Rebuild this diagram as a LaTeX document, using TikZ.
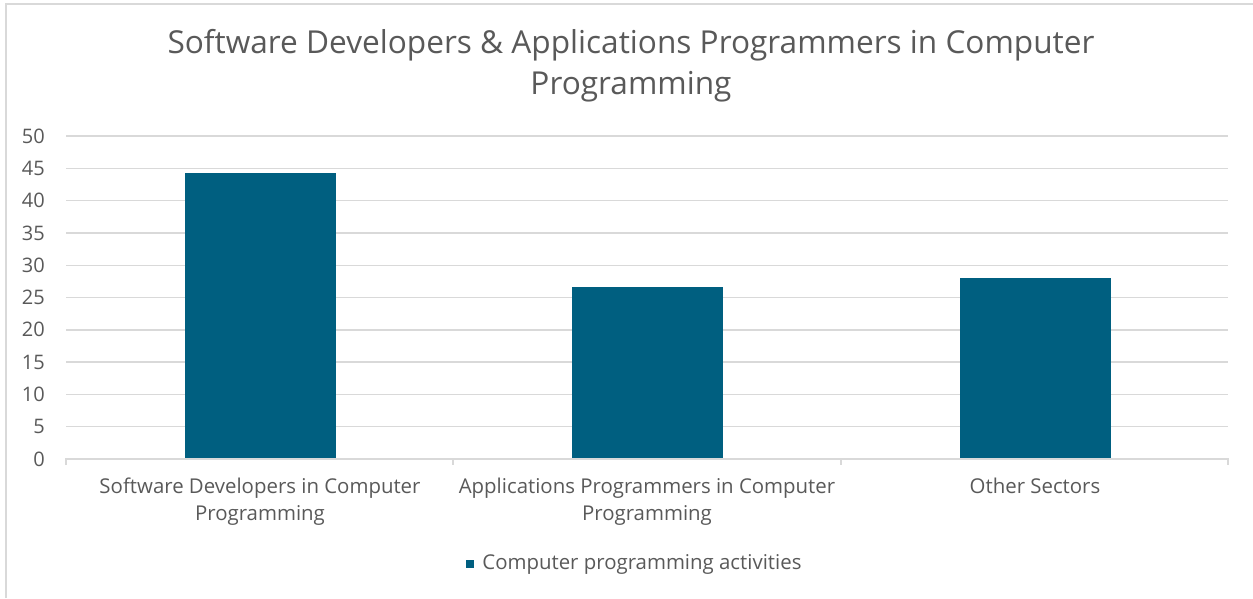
\documentclass[tikz,border=0pt]{standalone}
\usepackage{fontspec}
\setmainfont{Open Sans}
\usetikzlibrary{positioning}
\definecolor{barblue}{RGB}{0,95,128}
\definecolor{txtgray}{RGB}{89,89,89}
\definecolor{gridgray}{RGB}{217,217,217}

\begin{document}
\begin{tikzpicture}[x=1pt, y=-1pt,
    bar/.style={fill=barblue, draw=none, anchor=south, minimum width=151pt, inner sep=0pt},
    ticklabel/.style={text=txtgray, font=\fontsize{20}{22}\selectfont, anchor=east, inner sep=0pt},
    catlabel/.style={text=txtgray, font=\fontsize{20.4}{27}\selectfont, align=center, anchor=north, inner sep=0pt},
    gridline/.style={draw=gridgray, line width=1.4pt}]
    \useasboundingbox (0,0) rectangle (1253,598);
    \draw[gridline] (6,598) -- (6,4) -- (1253,4);

    \node[text=txtgray, font=\fontsize{31.6}{41}\selectfont, align=center] (title) at (631,66)
        {Software Developers \& Applications Programmers in Computer\\Programming};

    \foreach \v in {5,10,...,50}
        \draw[gridline] (66,{459-6.46*\v}) -- (1228,{459-6.46*\v});
    \foreach \v in {0,5,...,50}
        \node[ticklabel] (y\v) at (45,{459-6.46*\v}) {\v};

    \node[bar, minimum height=286pt] (sdev) at (260,459) {};
    \node[bar, minimum height=172pt] (aprog) at (647,459) {};
    \node[bar, minimum height=181pt] (other) at (1035,459) {};

    \draw[gridline] (66,465) -- (66,459) -- (1228,459) -- (1228,465);
    \draw[gridline] (453,459) -- (453,465);
    \draw[gridline] (841,459) -- (841,465);

    \node[catlabel] (sdevlab) at (260,478) {Software Developers in Computer\\Programming};
    \node[catlabel] (aproglab) at (647,478) {Applications Programmers in Computer\\Programming};
    \node[catlabel] (otherlab) at (1035,478) {Other Sectors};

    \node[fill=barblue, minimum size=8pt, inner sep=0pt] (key) at (470,564) {};
    \node[catlabel, anchor=west, right=8pt of key] (keylab) {Computer programming activities};
\end{tikzpicture}
\end{document}
